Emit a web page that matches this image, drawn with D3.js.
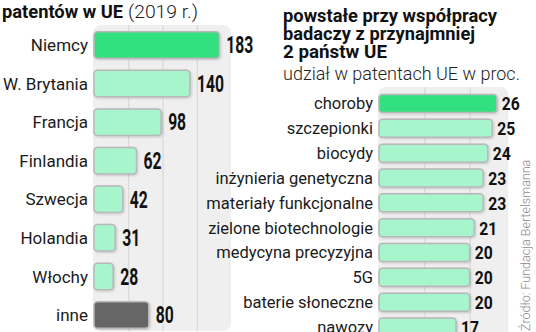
<!DOCTYPE html>
<html><head><meta charset="utf-8">
<script src="https://cdn.jsdelivr.net/npm/d3@7"></script>
<style>
html,body{margin:0;padding:0;background:#fff;}
svg{display:block;}
.lab{font-family:Roboto,"Noto Sans",sans-serif;fill:#1a1a1a;}
.val{font-family:"Roboto","DejaVu Sans Condensed",sans-serif;font-weight:bold;fill:#111;}
.ttl{font-family:Roboto,"Noto Sans",sans-serif;font-weight:bold;fill:#111;}
.sub{font-family:Roboto,"Noto Sans",sans-serif;font-weight:300;fill:#222;}
</style></head>
<body>
<svg id="c" width="536" height="332"></svg>
<script>
// Left chart: patents by country (2019)
const countries = ["Niemcy","W. Brytania","Francja","Finlandia","Szwecja","Holandia","Włochy","inne"];
const countryValues = [183,140,98,62,42,31,28,80];
const countryTicks = [50,100,150];
// Right chart: share of EU patents by field, %
const fields = ["choroby","szczepionki","biocydy","inżynieria genetyczna","materiały funkcjonalne","zielone biotechnologie","medycyna precyzyjna","5G","baterie słoneczne","nawozy"];
const fieldValues = [26,25,24,23,23,21,20,20,20,17];
const fieldTicks = [10,20];

const svg = d3.select("#c");
const BRIGHT = "#33e07f", LIGHT = "#a6f5cd", DARK = "#666666";

const defs = svg.append("defs");
const f = defs.append("filter").attr("id","sh").attr("x","-10%").attr("y","-20%").attr("width","130%").attr("height","160%");
f.append("feDropShadow").attr("dx",1).attr("dy",1).attr("stdDeviation",1).attr("flood-color","#000").attr("flood-opacity",0.18);

// ---------- Left panel ----------
const xL = d3.scaleLinear().domain([0,200]).range([94,231]);
const yL = d3.scalePoint().domain(countries).range([45,315]);
svg.append("rect").attr("x",93).attr("y",25).attr("width",xL(200)-93).attr("height",306).attr("rx",8).attr("fill","#efefef");
const gL = svg.append("g").attr("transform","translate(0,25)")
  .call(d3.axisBottom(xL).tickValues(countryTicks).tickSize(306).tickFormat(""));
gL.select(".domain").remove();
gL.selectAll(".tick line").attr("stroke","#d4d4d4").attr("stroke-width",1);

const bhL = 26.5;
svg.append("g").selectAll("rect").data(countries).join("rect")
  .attr("x",xL(0)).attr("y",d=>yL(d)-bhL/2)
  .attr("width",(d,i)=>xL(countryValues[i])-xL(0)).attr("height",bhL)
  .attr("rx",3.5).attr("fill",(d,i)=>i===0?BRIGHT:(d==="inne"?DARK:LIGHT))
  .attr("stroke","#b8b8b8").attr("stroke-width",1.5).attr("filter","url(#sh)");
svg.append("g").selectAll("text").data(countries).join("text").attr("class","lab")
  .attr("x",88).attr("y",d=>yL(d)).attr("dy","0.36em").attr("text-anchor","end")
  .attr("font-size",17).text(d=>d);
svg.append("g").selectAll("text").data(countries).join("text").attr("class","val")
  .attr("x",(d,i)=>xL(countryValues[i])+7).attr("y",d=>yL(d)).attr("dy","0.36em")
  .attr("font-size",23).attr("lengthAdjust","spacingAndGlyphs")
  .attr("textLength",(d,i)=>String(countryValues[i]).length*9)
  .text((d,i)=>countryValues[i]);

svg.append("text").attr("class","ttl").attr("x",2).attr("y",17.5).attr("font-size",18)
  .attr("lengthAdjust","spacingAndGlyphs").attr("textLength",121).text("patentów w UE");
svg.append("text").attr("class","sub").attr("x",128).attr("y",17.5).attr("font-size",19)
  .attr("lengthAdjust","spacingAndGlyphs").attr("textLength",70).text("(2019 r.)");

// ---------- Right panel ----------
const xR = d3.scaleLinear().domain([0,30]).range([379,515]);
const yR = d3.scalePoint().domain(fields).range([103.5,327]);
svg.append("rect").attr("x",378).attr("y",87).attr("width",xR(28.5)-378).attr("height",260).attr("rx",8).attr("fill","#efefef");
const gR = svg.append("g").attr("transform","translate(0,87)")
  .call(d3.axisBottom(xR).tickValues(fieldTicks).tickSize(260).tickFormat(""));
gR.select(".domain").remove();
gR.selectAll(".tick line").attr("stroke","#d4d4d4").attr("stroke-width",1);

const bhR = 18;
svg.append("g").selectAll("rect").data(fields).join("rect")
  .attr("x",xR(0)).attr("y",d=>yR(d)-bhR/2)
  .attr("width",(d,i)=>xR(fieldValues[i])-xR(0)).attr("height",bhR)
  .attr("rx",3.5).attr("fill",(d,i)=>i===0?BRIGHT:LIGHT)
  .attr("stroke","#b8b8b8").attr("stroke-width",1.5).attr("filter","url(#sh)");
svg.append("g").selectAll("text").data(fields).join("text").attr("class","lab")
  .attr("x",373).attr("y",d=>yR(d)).attr("dy","0.36em").attr("text-anchor","end")
  .attr("font-size",16.5).text(d=>d);
svg.append("g").selectAll("text").data(fields).join("text").attr("class","val")
  .attr("x",(d,i)=>xR(fieldValues[i])+5).attr("y",d=>yR(d)).attr("dy","0.36em")
  .attr("font-size",19).attr("lengthAdjust","spacingAndGlyphs")
  .attr("textLength",(d,i)=>String(fieldValues[i]).length*9)
  .text((d,i)=>fieldValues[i]);

const titleLines = ["powstałe przy współpracy","badaczy z przynajmniej","2 państw UE"];
const titleWidths = [214,192,104];
svg.append("g").selectAll("text").data(titleLines).join("text").attr("class","ttl")
  .attr("x",283).attr("y",(d,i)=>22+i*18).attr("font-size",18)
  .attr("lengthAdjust","spacingAndGlyphs").attr("textLength",(d,i)=>titleWidths[i]).text(d=>d);
svg.append("text").attr("class","sub").attr("x",283).attr("y",80).attr("font-size",18).text("udział w patentach UE w proc.");

svg.append("text").attr("transform","translate(530,331) rotate(-90)")
  .attr("font-family","Roboto,'Noto Sans',sans-serif").attr("font-weight",300)
  .attr("font-size",12.5).attr("fill","#8a8a8a").text("Źródło: Fundacja Bertelsmanna");
</script>
</body></html>
